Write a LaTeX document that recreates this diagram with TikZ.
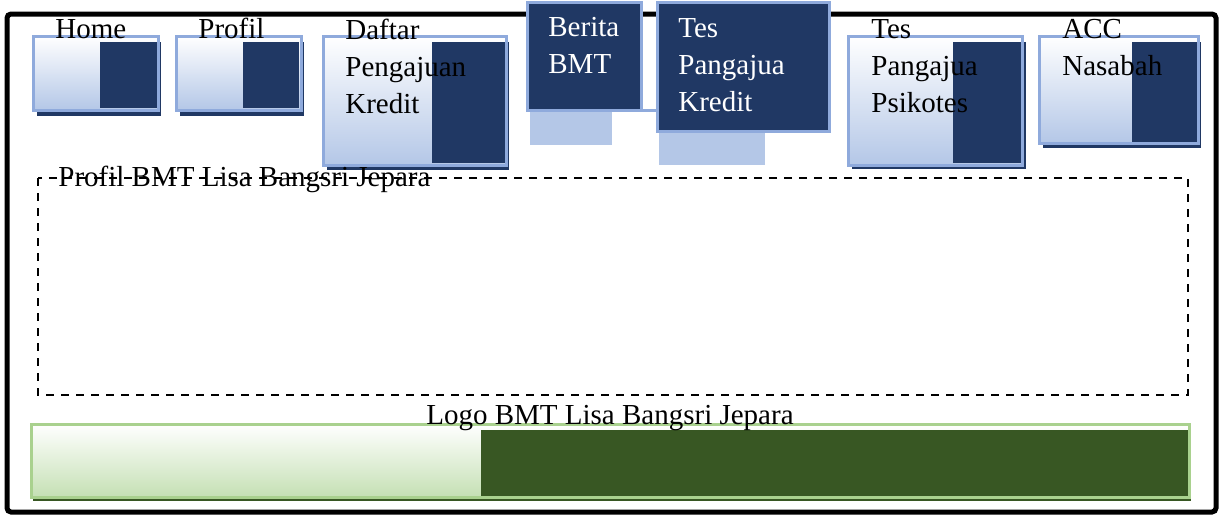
\documentclass[tikz,border=0pt]{standalone}
\usepackage{fontspec}
\setmainfont{Liberation Serif}
\definecolor{navy}{RGB}{32,56,100}
\definecolor{edgeblue}{RGB}{143,170,220}
\definecolor{paleblue}{RGB}{180,199,231}
\definecolor{edgegreen}{RGB}{169,209,142}
\definecolor{palegreen}{RGB}{197,224,180}
\definecolor{darkgreen}{RGB}{56,87,35}
\begin{document}
\begin{tikzpicture}[x=0.5pt,y=-0.5pt]
    \tikzstyle{every node}=[inner sep=0pt,anchor=north west,align=left,font=\fontsize{14.5}{18.5}\selectfont]
    \tikzstyle{menushadow}=[fill=navy]
    \tikzstyle{menubox}=[draw=edgeblue,line width=1.5pt,top color=white,bottom color=paleblue]
    \tikzstyle{menudark}=[fill=navy]
    \tikzstyle{activebox}=[draw=edgeblue,line width=1.5pt,fill=navy]
    \tikzstyle{tabfoot}=[fill=paleblue]
    \useasboundingbox (0,0) rectangle (1223,516);
    \draw[line width=2.5pt,rounded corners=2pt] (7,14) rectangle (1216,512);
    %%%%% menu
    \fill[menushadow] (37,42) rectangle (161,116);
    \draw[menubox] (33,36) rectangle (158,110);
    \fill[menudark] (100,42) rectangle (157,108);
    \draw (55,19) node (home) {Home};
    \fill[menushadow] (180,42) rectangle (304,116);
    \draw[menubox] (176,36) rectangle (301,110);
    \fill[menudark] (243,42) rectangle (299,108);
    \draw (198,18) node (profil) {Profil};
    \fill[menushadow] (327,42) rectangle (509,170);
    \draw[menubox] (323,36) rectangle (506,165);
    \fill[menudark] (432,42) rectangle (505,163);
    \draw (345,19) node (daftar) {Daftar\\Pengajuan\\Kredit};
    \fill[tabfoot] (530,111) rectangle (612,145);
    \draw[edgeblue,line width=1.5pt] (640,110) -- (657,110);
    \draw[activebox] (527,2) rectangle (641,110);
    \draw (548,17) node[text=white] (berita) {Berita\\BMT};
    \fill[tabfoot] (659,132) rectangle (765,165);
    \draw[activebox] (657,2) rectangle (829,131);
    \draw (678,18) node[text=white] (teskredit) {Tes\\Pangajua\\Kredit};
    \fill[menushadow] (852,42) rectangle (1026,169);
    \draw[menubox] (848,36) rectangle (1022,165);
    \fill[menudark] (953,42) rectangle (1021,163);
    \draw (871,19) node (tespsikotes) {Tes\\Pangajua\\Psikotes};
    \fill[menushadow] (1043,42) rectangle (1201,148);
    \draw[menubox] (1039,36) rectangle (1198,143);
    \fill[menudark] (1132,42) rectangle (1197,142);
    \draw (1062,19) node (acc) {ACC\\Nasabah};
    %%%%% isi
    \draw[line width=1pt,dash pattern=on 4pt off 3.5pt] (38,178) rectangle (1188,395);
    \draw (58,186) node[anchor=base west] (isi) {Profil BMT Lisa Bangsri Jepara};
    %%%%% logo
    \fill[darkgreen] (33,430) rectangle (1191,501);
    \draw[draw=edgegreen,line width=1.5pt,top color=white,bottom color=palegreen] (31,424) rectangle (1189,497);
    \fill[darkgreen] (481,430) rectangle (1188,496);
    \draw (610,424) node[anchor=base] (logo) {Logo BMT Lisa Bangsri Jepara};
\end{tikzpicture}
\end{document}
